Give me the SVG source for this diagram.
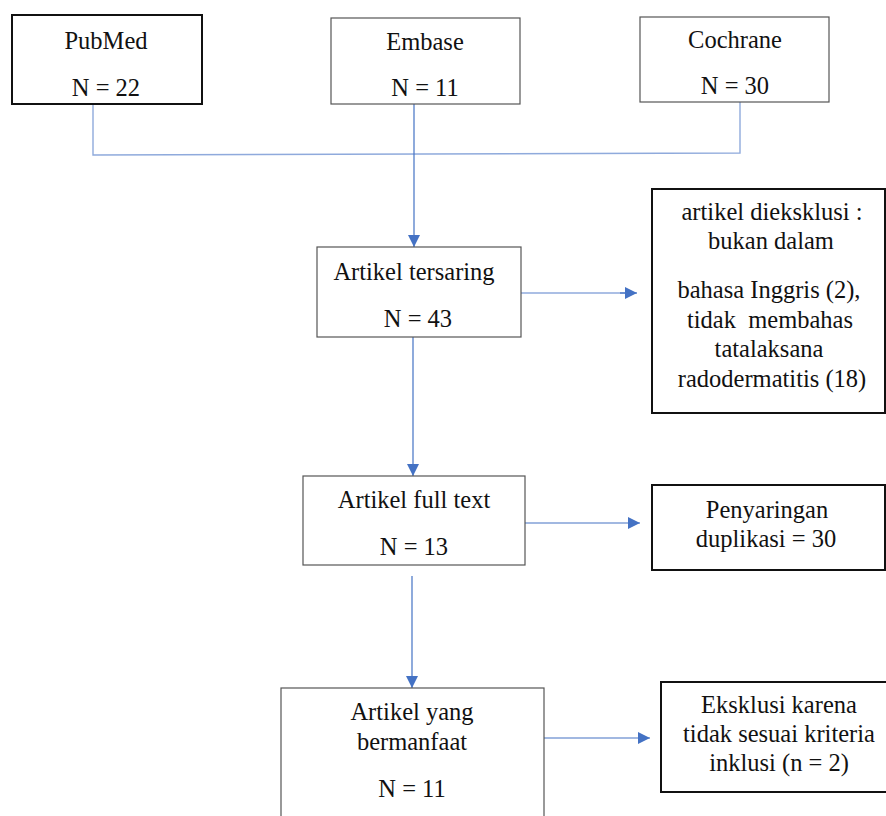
<svg xmlns="http://www.w3.org/2000/svg" width="886" height="816" viewBox="0 0 886 816">
<defs>
<marker id="ah" markerWidth="12" markerHeight="12" refX="12" refY="6" orient="auto" markerUnits="userSpaceOnUse">
<path d="M0,0 L12,6 L0,12 Z" fill="#4472C4"/>
</marker>
<style>
.t{font-family:"Liberation Serif","Times New Roman",serif;font-size:24.5px;fill:#111;text-anchor:middle}
.bx{fill:#fff}
.thick{stroke:#111;stroke-width:2}
.thin{stroke:#555;stroke-width:1.2}
.c{fill:none;stroke:#4472C4;stroke-width:1.2}
.cl{fill:none;stroke:#8FAADC;stroke-width:1.4}
</style>
</defs>
<rect width="886" height="816" fill="#fff"/>
<g id="connectors">
<polyline class="cl" points="93,104 93,155 740,153 740,102"/>
<line class="c" x1="414" y1="104" x2="414" y2="247" marker-end="url(#ah)"/>
<line class="cl" x1="521" y1="293" x2="626" y2="293"/>
<line class="c" x1="620" y1="293" x2="637" y2="293" marker-end="url(#ah)"/>
<line class="c" x1="413" y1="337" x2="413" y2="476" marker-end="url(#ah)"/>
<line class="c" x1="525" y1="523" x2="640" y2="523" marker-end="url(#ah)"/>
<line class="c" x1="412" y1="576" x2="412" y2="688" marker-end="url(#ah)"/>
<line class="c" x1="544" y1="738" x2="650" y2="738" marker-end="url(#ah)"/>
</g>
<g id="pubmed">
<rect class="bx thick" x="12" y="15" width="190" height="89"/>
<text class="t" x="106" y="49">PubMed</text>
<text class="t" x="106" y="96">N = 22</text>
</g>
<g id="embase">
<rect class="bx thin" x="331" y="18" width="189" height="86"/>
<text class="t" x="425" y="50">Embase</text>
<text class="t" x="425" y="96">N = 11</text>
</g>
<g id="cochrane">
<rect class="bx thin" x="640" y="17" width="189" height="85"/>
<text class="t" x="735" y="48">Cochrane</text>
<text class="t" x="735" y="94">N = 30</text>
</g>
<g id="tersaring">
<rect class="bx thin" x="317" y="247" width="204" height="90"/>
<text class="t" x="414" y="280">Artikel tersaring</text>
<text class="t" x="418" y="327">N = 43</text>
</g>
<g id="eksklusi1">
<rect class="bx thick" x="652" y="189" width="233" height="224"/>
<text class="t" x="772" y="220">artikel dieksklusi :</text>
<text class="t" x="771" y="249">bukan dalam</text>
<text class="t" x="769" y="298">bahasa Inggris (2),</text>
<text class="t" x="770" y="328" xml:space="preserve">tidak  membahas</text>
<text class="t" x="769" y="357">tatalaksana</text>
<text class="t" x="772" y="387">radodermatitis (18)</text>
</g>
<g id="fulltext">
<rect class="bx thin" x="303" y="476" width="222" height="89"/>
<text class="t" x="414" y="508">Artikel full text</text>
<text class="t" x="414" y="555">N = 13</text>
</g>
<g id="duplikasi">
<rect class="bx thick" x="652" y="485" width="233" height="85"/>
<text class="t" x="767" y="518">Penyaringan</text>
<text class="t" x="766" y="547">duplikasi = 30</text>
</g>
<g id="bermanfaat">
<rect class="bx thin" x="281" y="688" width="263" height="140"/>
<text class="t" x="412" y="720">Artikel yang</text>
<text class="t" x="412" y="750">bermanfaat</text>
<text class="t" x="412" y="797">N = 11</text>
</g>
<g id="eksklusi2">
<rect class="bx thick" x="661" y="682" width="232" height="110"/>
<text class="t" x="779" y="713">Eksklusi karena</text>
<text class="t" x="779" y="742">tidak sesuai kriteria</text>
<text class="t" x="779" y="771">inklusi (n = 2)</text>
</g>
</svg>
